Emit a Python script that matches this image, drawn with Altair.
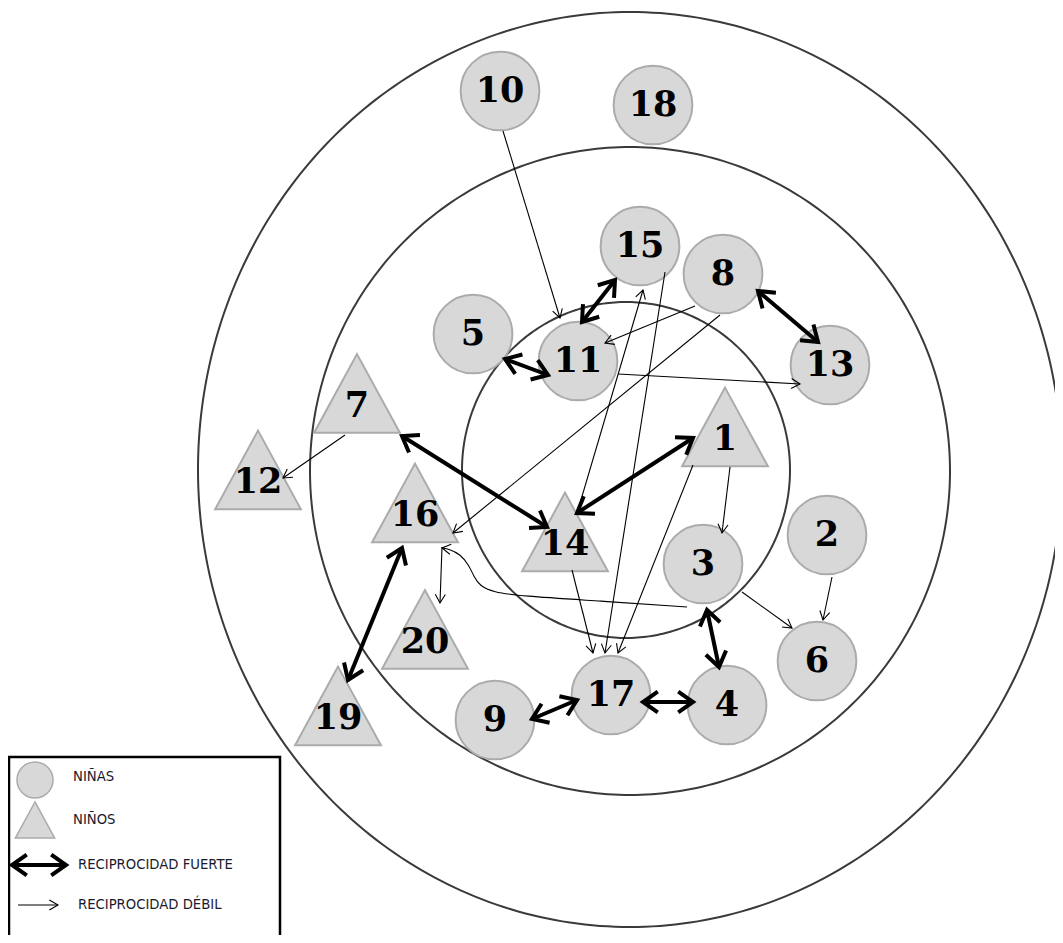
import altair as alt
import pandas as pd
import numpy as np

# ---------------- data (pixel space of the 1063x943 image) -------------
# concentric rings: centre and radii
ring_name = ["outer", "middle", "inner"]
ring_cx = [630, 630, 626]
ring_cy = [469.5, 471, 470]
ring_rx = [432, 320, 164]
ring_ry = [457.5, 324, 168]

# nodes (children): id, sex, centre position
node_id = ["1", "2", "3", "4", "5", "6", "7", "8", "9", "10",
           "11", "12", "13", "14", "15", "16", "17", "18", "19", "20"]
node_sex = ["niño", "niña", "niña", "niña", "niña", "niña", "niño", "niña", "niña", "niña",
            "niña", "niño", "niña", "niño", "niña", "niño", "niña", "niña", "niño", "niño"]
node_x = [725, 827, 703, 727, 473, 817, 357, 723, 495, 500,
          578, 258, 830, 565, 640, 415, 611, 653, 338, 425]
node_y = [427, 535, 564, 705, 334, 661, 393.5, 274, 720, 91,
          361, 470, 365, 532, 246, 503, 695, 105, 706, 629.5]

# strong reciprocity (double arrows): endpoints
strong_pair = ["15-11", "5-11", "8-13", "7-14", "1-14", "16-19", "3-4", "17-4", "9-17"]
strong_x1 = [615, 505, 758, 402, 693, 402, 707, 643, 532]
strong_y1 = [280, 359, 291, 436, 438, 548, 610, 702, 719]
strong_x2 = [582, 548, 818, 547, 577, 348, 719, 693, 577]
strong_y2 = [322, 375, 342, 527, 513, 680, 667, 702, 700]

# weak reciprocity (single arrows): start -> end
weak_pair = ["10-11", "8-11", "11-13", "8-16", "14-15", "15-17", "14-17", "1-17",
             "1-3", "16-20", "3-6", "2-6", "7-12"]
weak_x1 = [503, 695, 618, 720, 578, 665, 572, 693, 730, 442, 742, 832, 345]
weak_y1 = [131, 306, 374, 315, 510, 272, 570, 465, 467, 547, 592, 577, 435]
weak_x2 = [560, 605, 800, 453, 643, 605, 593, 618, 722, 440, 792, 823, 283]
weak_y2 = [318, 343, 384, 533, 290, 653, 653, 653, 533, 603, 628, 620, 478]

# curved weak arrow 3 -> 16
curve_x = [687, 600, 520, 493, 480, 474, 469, 460, 449, 442]
curve_y = [607, 601, 596, 592, 586, 577, 565, 554, 549, 548]

# legend
legend_labels = ["NIÑAS", "NIÑOS", "RECIPROCIDAD FUERTE", "RECIPROCIDAD DÉBIL"]
legend_label_x = [73, 73, 78, 78]
legend_label_y = [777, 820, 865, 905]
legend_sym_x = [35, 35]
legend_sym_y = [780, 820]
legend_sym_kind = ["niña", "niño"]
legend_box = [9, 757, 280, 990]
legend_strong = [12, 865, 66, 865]
legend_weak = [18, 905, 58, 905]

# ---------------- helpers ----------------
X = alt.Scale(domain=[8, 1055], nice=False, zero=False)
Y = alt.Scale(domain=[8, 935], reverse=True, nice=False, zero=False)


def xe(f="x"):
    return alt.X(f"{f}:Q", scale=X, axis=None)


def ye(f="y"):
    return alt.Y(f"{f}:Q", scale=Y, axis=None)


TRI = "M0,-1 L1.09,1 L-1.09,1 Z"
CHEV_THICK = "M-0.7,1 L0,0 L0.7,1"
CHEV_THIN = "M-0.58,1 L0,0 L0.58,1"


def heading(xa, ya, xb, yb):
    # direction a->b in screen space, clockwise degrees from "up"
    return (np.degrees(np.arctan2(xb - xa, -(yb - ya))) + 360) % 360


# rings as closed paths
t = np.linspace(0, 2 * np.pi, 361)
ring_rows = []
for n, cx, cy, rx, ry in zip(ring_name, ring_cx, ring_cy, ring_rx, ring_ry):
    for i, tt in enumerate(t):
        ring_rows.append({"ring": n, "i": i, "x": cx + rx * np.cos(tt), "y": cy + ry * np.sin(tt)})
rings_df = pd.DataFrame(ring_rows)

nodes_df = pd.DataFrame({"id": node_id, "sex": node_sex, "x": node_x, "y": node_y})
nodes_df["ly"] = nodes_df["y"] + np.where(nodes_df["sex"] == "niño", 12, 0)

strong_df = pd.DataFrame({"pair": strong_pair, "x": strong_x1, "y": strong_y1,
                          "x2": strong_x2, "y2": strong_y2})
weak_df = pd.DataFrame({"pair": weak_pair, "x": weak_x1, "y": weak_y1,
                        "x2": weak_x2, "y2": weak_y2})
curve_df = pd.DataFrame({"i": range(len(curve_x)), "x": curve_x, "y": curve_y})

# arrowheads
thick_heads = []
for x1, y1, x2, y2 in zip(strong_x1, strong_y1, strong_x2, strong_y2):
    thick_heads.append({"x": x2, "y": y2, "ang": heading(x1, y1, x2, y2)})
    thick_heads.append({"x": x1, "y": y1, "ang": heading(x2, y2, x1, y1)})
lx1, ly1, lx2, ly2 = legend_strong
thick_heads.append({"x": lx2, "y": ly2, "ang": heading(lx1, ly1, lx2, ly2)})
thick_heads.append({"x": lx1, "y": ly1, "ang": heading(lx2, ly2, lx1, ly1)})
thick_df = pd.DataFrame(thick_heads)

thin_heads = []
for x1, y1, x2, y2 in zip(weak_x1, weak_y1, weak_x2, weak_y2):
    thin_heads.append({"x": x2, "y": y2, "ang": heading(x1, y1, x2, y2)})
thin_heads.append({"x": curve_x[-1], "y": curve_y[-1],
                   "ang": heading(curve_x[-2], curve_y[-2], curve_x[-1], curve_y[-1])})
wx1, wy1, wx2, wy2 = legend_weak
thin_heads.append({"x": wx2, "y": wy2, "ang": heading(wx1, wy1, wx2, wy2)})
thin_df = pd.DataFrame(thin_heads)

legend_text_df = pd.DataFrame({"t": legend_labels, "x": legend_label_x, "y": legend_label_y})
legend_sym_df = pd.DataFrame({"sex": legend_sym_kind, "x": legend_sym_x, "y": legend_sym_y})
legend_box_df = pd.DataFrame([{"x": legend_box[0], "y": legend_box[1],
                               "x2": legend_box[2], "y2": legend_box[3]}])
legend_lines_df = pd.DataFrame([
    {"k": "strong", "x": legend_strong[0], "y": legend_strong[1], "x2": legend_strong[2], "y2": legend_strong[3]},
    {"k": "weak", "x": legend_weak[0], "y": legend_weak[1], "x2": legend_weak[2], "y2": legend_weak[3]},
])

shape_scale = alt.Scale(domain=["niña", "niño"], range=["circle", TRI])

# ---------------- layers ----------------
rings = alt.Chart(rings_df).mark_line(color="#3a3a3a", strokeWidth=2, clip=True).encode(
    x=xe(), y=ye(), detail="ring:N", order="i:Q")

nodes = alt.Chart(nodes_df).mark_point(filled=True, fill="#d8d8d8", stroke="#ababab",
                                       strokeWidth=2, opacity=1, size=6200).encode(
    x=xe(), y=ye(), shape=alt.Shape("sex:N", scale=shape_scale, legend=None))

strong = alt.Chart(strong_df).mark_rule(color="black", strokeWidth=4).encode(
    x=xe(), y=ye(), x2="x2:Q", y2="y2:Q")

weak = alt.Chart(weak_df).mark_rule(color="black", strokeWidth=1.1).encode(
    x=xe(), y=ye(), x2="x2:Q", y2="y2:Q")

curve = alt.Chart(curve_df).mark_line(color="black", strokeWidth=1.1, interpolate="basis").encode(
    x=xe(), y=ye(), order="i:Q")

thick = alt.Chart(thick_df).mark_point(shape=CHEV_THICK, filled=False, color="black", stroke="black",
                                       strokeWidth=4, opacity=1, size=870, strokeJoin="miter").encode(
    x=xe(), y=ye(), angle=alt.Angle("ang:Q", scale=None))

thin = alt.Chart(thin_df).mark_point(shape=CHEV_THIN, filled=False, color="black", stroke="black",
                                     strokeWidth=1.1, opacity=1, size=300).encode(
    x=xe(), y=ye(), angle=alt.Angle("ang:Q", scale=None))

labels = alt.Chart(nodes_df).mark_text(font="DejaVu Serif", fontWeight="bold", fontSize=35,
                                       color="black", baseline="middle", align="center").encode(
    x=xe(), y=ye("ly"), text="id:N")

box = alt.Chart(legend_box_df).mark_rect(fill=None, stroke="black", strokeWidth=2.5, clip=True).encode(
    x=xe(), y=ye(), x2="x2:Q", y2="y2:Q")

leg_syms = alt.Chart(legend_sym_df).mark_point(filled=True, fill="#d8d8d8", stroke="#ababab",
                                               strokeWidth=1.5, opacity=1, size=1300).encode(
    x=xe(), y=ye(), shape=alt.Shape("sex:N", scale=shape_scale, legend=None))

leg_lines = alt.Chart(legend_lines_df).mark_rule(color="black").encode(
    x=xe(), y=ye(), x2="x2:Q", y2="y2:Q",
    strokeWidth=alt.StrokeWidth("k:N", scale=alt.Scale(domain=["strong", "weak"], range=[4, 1.1]),
                                legend=None))

leg_text = alt.Chart(legend_text_df).mark_text(
    font="'Liberation Sans Narrow', 'DejaVu Sans Condensed', 'Roboto Condensed', 'Liberation Sans', sans-serif",
    fontSize=14.7, color="#1a1a2e", align="left", baseline="middle").encode(
    x=xe(), y=ye(), text="t:N")

chart = alt.layer(rings, nodes, strong, weak, curve, thick, thin, labels,
                  box, leg_syms, leg_lines, leg_text).properties(
    width=1047, height=927, padding=0,
    autosize=alt.AutoSizeParams(type="none"),
    background="white",
).configure_view(stroke=None)

chart.save("out.html", embed_options={"renderer": "svg", "actions": False})
